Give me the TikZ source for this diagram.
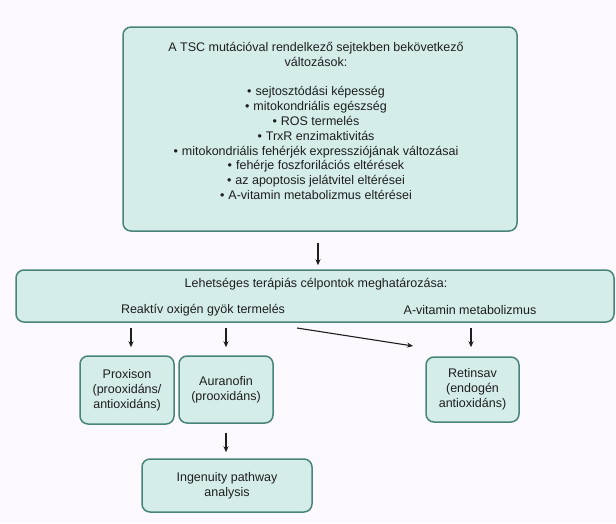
\documentclass[tikz,border=0pt]{standalone}
\usepackage{fontspec}
\setmainfont{Liberation Sans}
\definecolor{boxfill}{RGB}{212,237,232}
\definecolor{boxline}{RGB}{72,132,122}
\definecolor{pagebg}{RGB}{251,249,253}
\definecolor{inktext}{RGB}{30,30,30}
\newcommand{\bul}{•\hspace{4pt}}
\tikzset{
  tealbox/.style={draw=boxline, fill=boxfill, line width=1.5pt, rounded corners=8pt, inner sep=0pt},
  txt/.style={text=inktext, font=\fontsize{12.5}{14.8}\selectfont, align=center, inner sep=0pt},
  arr/.style={-{Stealth[length=6pt,width=5pt]}, line width=1.1pt, draw=inktext}
}
\usetikzlibrary{arrows.meta}
\begin{document}
\begin{tikzpicture}[x=1pt, y=-1pt]
  \useasboundingbox[fill=pagebg] (0,0) rectangle (616,523);
  % boxes
  \node[tealbox, minimum width=394pt, minimum height=204pt] (tsc) at (320,129) {};
  \node[txt] (tsctext) at (316,121) {A TSC mutációval rendelkező sejtekben bekövetkező\\
    változások:\\[14.8pt]
    \bul sejtosztódási képesség\\
    \bul mitokondriális egészség\\
    \bul ROS termelés\\
    \bul TrxR enzimaktivitás\\
    \bul mitokondriális fehérjék expressziójának változásai\\
    \bul fehérje foszforilációs eltérések\\
    \bul az apoptosis jelátvitel eltérései\\
    \bul A-vitamin metabolizmus eltérései};
  \node[tealbox, minimum width=598pt, minimum height=52pt] (targets) at (315,296) {};
  \node[txt] (targetstitle) at (316,284) {Lehetséges terápiás célpontok meghatározása:};
  \node[txt] (ros) at (203,310) {Reaktív oxigén gyök termelés};
  \node[txt] (vita) at (470,310) {A-vitamin metabolizmus};
  \node[tealbox, txt, minimum width=94pt, minimum height=68pt] (prox) at (127,390) {Proxison\\(prooxidáns/\\antioxidáns)};
  \node[tealbox, txt, minimum width=94pt, minimum height=67pt] (auran) at (226,389.5) {Auranofin\\(prooxidáns)};
  \node[tealbox, txt, minimum width=93pt, minimum height=65pt] (retin) at (472.5,389.5) {Retinsav\\(endogén\\antioxidáns)};
  \node[tealbox, txt, minimum width=170pt, minimum height=53pt] (ipa) at (227,485.5) {Ingenuity pathway\\analysis};
  \coordinate (diagstart) at (297,328);
  \coordinate (diagend) at (413,346);
  % arrows
  \begin{scope}[arr]
    \draw[shorten <=11pt, shorten >=4pt] (tsc.south -| 318,0) -- (targets.north -| 318,0);
    \draw[shorten <=5pt, shorten >=8pt] (targets.south -| 131,0) -- (prox.north -| 131,0);
    \draw[shorten <=5pt, shorten >=8pt] (targets.south -| auran) -- (auran.north);
    \draw (diagstart) -- (diagend);
    \draw[shorten <=5pt, shorten >=9pt] (targets.south -| 471,0) -- (retin.north -| 471,0);
    \draw[shorten <=9pt, shorten >=6pt] (auran.south) -- (ipa.north -| auran);
  \end{scope}
\end{tikzpicture}
\end{document}
